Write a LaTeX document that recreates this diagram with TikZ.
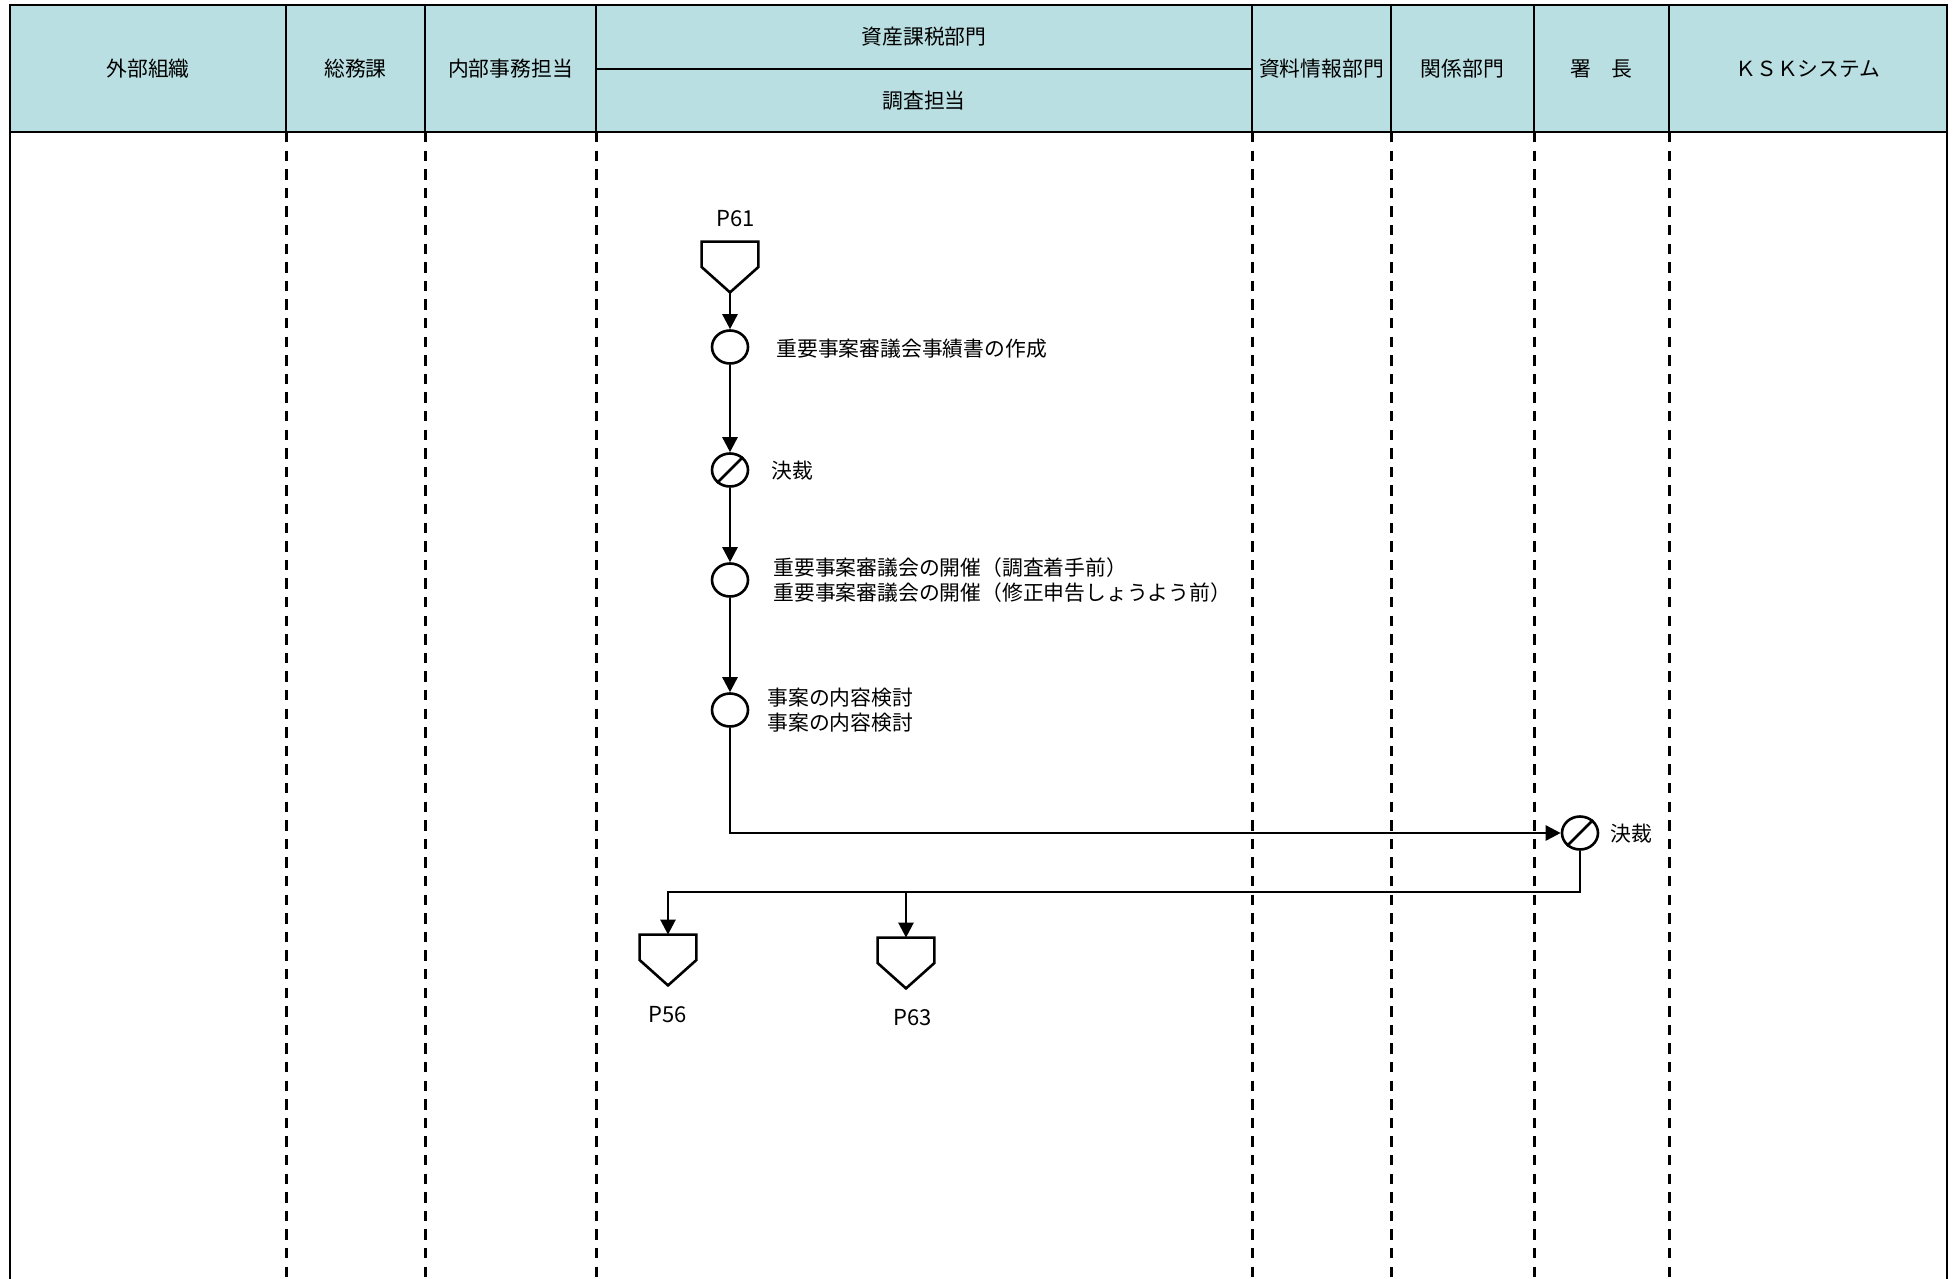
\documentclass[tikz,border=0pt]{standalone}
\usepackage{fontspec}
\setmainfont{Noto Sans CJK JP}
\usetikzlibrary{arrows.meta,shapes.geometric,calc}
\definecolor{hdr}{RGB}{185,223,226}
\begin{document}
\begin{tikzpicture}[x=0.5pt,y=-0.5pt,
  frame/.style={line width=1.4pt},
  lane/.style={line width=1.5pt,dash pattern=on 5.2pt off 4.1pt},
  htext/.style={font=\fontsize{10.4}{12.5}\selectfont,inner sep=0pt},
  ltext/.style={font=\fontsize{10.4}{12.5}\selectfont,inner sep=0pt,anchor=west,align=left},
  ptext/.style={font=\fontsize{11}{13}\selectfont,inner sep=0pt},
  proc/.style={ellipse,draw,line width=1.3pt,minimum width=18pt,minimum height=16.5pt,inner sep=0pt,fill=white},
  offpage/.style={rectangle,draw=none,minimum width=28pt,minimum height=25pt,inner sep=0pt},
  shp/.style={line width=1.3pt,line join=miter},
  arr/.style={line width=1.3pt,-{Triangle[length=7.5pt,width=7.5pt]}},
  flow/.style={line width=1.3pt}
]
\useasboundingbox (0,0) rectangle (1959,1279);
% header
\fill[hdr] (10,5) rectangle (1947,132);
\draw[frame] (10,1279) -- (10,5) -- (1947,5) -- (1947,1279);
\draw[frame] (10,132) -- (1947,132);
\draw[frame] (596,69) -- (1252,69);
\foreach \x in {286,425,596,1252,1391,1534,1669}{
  \draw[frame] (\x,5) -- (\x,132);
  \draw[lane] (\x,132) -- (\x,1279);
}
\node[htext] (h1) at (148,69) {外部組織};
\node[htext] (h2) at (355.5,69) {総務課};
\node[htext] (h3) at (510.5,69) {内部事務担当};
\node[htext] (h4) at (924,37) {資産課税部門};
\node[htext] (h5) at (924,101) {調査担当};
\node[htext] (h6) at (1321.5,69) {資料情報部門};
\node[htext] (h7) at (1462.5,69) {関係部門};
\node[htext] (h8) at (1601.5,69) {署　長};
\node[htext] (h9) at (1808,69) {ＫＳＫシステム};

% flow
\node[offpage] (p61) at (730,267) {};
\draw[shp] (p61.north west) -- (p61.west) -- (p61.south) -- (p61.east) -- (p61.north east) -- cycle;
\node[ptext] (lp61) at (736,219) {P61};

\node[proc] (c1) at (730,347) {};
\node[proc] (d1) at (730,470) {};
\draw[line width=1.3pt] (d1.225) -- (d1.45);
\node[proc] (c3) at (730,580) {};
\node[proc] (c4) at (730,710) {};
\node[proc] (d2) at (1580,833) {};
\draw[line width=1.3pt] (d2.225) -- (d2.45);

\node[ltext] (t1) at (776,349) {重要事案審議会事績書の作成};
\node[ltext] (t2) at (771,471) {決裁};
\node[ltext] (t3) at (773,580) {重要事案審議会の開催（調査着手前）\\重要事案審議会の開催（修正申告しょうよう前）};
\node[ltext] (t4) at (767,710) {事案の内容検討\\事案の内容検討};
\node[ltext] (t5) at (1610,834) {決裁};

\node[offpage] (p56) at (668,960) {};
\draw[shp] (p56.north west) -- (p56.west) -- (p56.south) -- (p56.east) -- (p56.north east) -- cycle;
\node[ptext] (lp56) at (668,1015) {P56};
\node[offpage] (p63) at (906,963) {};
\draw[shp] (p63.north west) -- (p63.west) -- (p63.south) -- (p63.east) -- (p63.north east) -- cycle;
\node[ptext] (lp63) at (913,1018) {P63};

\coordinate (bus) at (0,892);
\draw[arr] (p61.south) -- (c1.north);
\draw[arr] (c1.south) -- (d1.north);
\draw[arr] (d1.south) -- (c3.north);
\draw[arr] (c3.south) -- (c4.north);
\draw[arr] (c4.south) |- (d2.west);
\draw[arr] (d2.south) -- (d2.south |- bus) -| (p56.north);
\draw[arr] (p63.north |- bus) -- (p63.north);
\end{tikzpicture}
\end{document}
